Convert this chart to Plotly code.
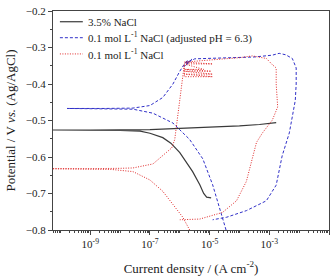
import numpy as np
import plotly.graph_objects as go

# log10 of current density (A cm^-2) and potential (V vs Ag/AgCl)
black_logi = [-4.95, -5.1, -5.2, -5.33, -5.57, -6.0, -6.3, -6.57, -7.0, -7.33, -8.0, -9.0, -10.4,
              -9.0, -7.0, -6.0, -5.67, -5.0, -4.0, -3.33, -2.77]
black_e = [-0.712, -0.71, -0.70, -0.676, -0.64, -0.588, -0.562, -0.547, -0.535, -0.529, -0.527, -0.526, -0.526,
           -0.526, -0.525, -0.522, -0.520, -0.518, -0.515, -0.511, -0.506]

blue_logi = [-4.45, -4.6, -4.9, -5.23, -5.67, -6.23, -6.9, -7.57, -8.5, -9.78,
             -8.5, -7.57, -7.0, -6.57, -6.23, -6.0, -5.83, -5.73, -5.85, -5.7, -5.8, -5.6, -5.75,
             -5.5, -5.0, -4.5, -4.0, -3.5, -2.9, -2.67, -2.45, -2.23, -2.1, -2.1, -2.13, -2.33, -2.57,
             -2.77, -3.1, -3.77, -4.43, -4.9]
blue_e = [-0.80, -0.757, -0.676, -0.605, -0.552, -0.507, -0.48, -0.469, -0.4675, -0.467,
          -0.467, -0.466, -0.459, -0.437, -0.40, -0.365, -0.343, -0.334, -0.352, -0.338, -0.35, -0.332, -0.342,
          -0.331, -0.330, -0.329, -0.328, -0.326, -0.321, -0.316, -0.32, -0.33, -0.356, -0.40, -0.445, -0.534, -0.597,
          -0.677, -0.72, -0.747, -0.765, -0.772]

red_logi = [-5.67, -5.9, -6.23, -6.57, -7.0, -7.57, -8.3, -9.0, -10.4,
            -9.0, -8.0, -7.57, -6.9, -6.57, -6.27, -6.17, -6.05, -5.95, -5.85,
            -5.85, -4.9, -5.85, -4.9, -5.85, -4.95, -5.85, -5.2, -5.85, -4.9, -5.85,
            -5.5, -5.1, -4.5, -4.0, -3.57, -3.1, -2.9, -2.77, -2.77, -2.72, -2.9, -3.23, -3.43,
            -3.57, -3.77, -4.1, -4.57, -5.33, -6.0]
red_e = [-0.80, -0.765, -0.73, -0.694, -0.663, -0.64, -0.634, -0.633, -0.632,
         -0.632, -0.631, -0.63, -0.619, -0.597, -0.575, -0.552, -0.48, -0.41, -0.347,
         -0.38, -0.38, -0.373, -0.373, -0.365, -0.365, -0.36, -0.36, -0.345, -0.345, -0.34,
         -0.337, -0.335, -0.331, -0.328, -0.323, -0.330, -0.347, -0.356, -0.40, -0.463, -0.499, -0.534, -0.56,
         -0.605, -0.667, -0.72, -0.752, -0.770, -0.772]

series_names = ["3.5% NaCl",
                "0.1 mol L<sup>-1</sup> NaCl (adjusted pH = 6.3)",
                "0.1 mol L<sup>-1</sup> NaCl"]

tick_exps = [-9, -7, -5, -3, -1]
tick_text = ["10<sup>%d</sup>" % e for e in tick_exps]

serif = "Liberation Serif, Times New Roman, serif"
styles = [dict(color="#3a3a3a", width=1.2),
          dict(color="#3030c8", width=1.0, dash="3px,2px"),
          dict(color="#e02828", width=1.0, dash="1px,1.5px")]

fig = go.Figure()
for xs, ys, nm, st in [(black_logi, black_e, series_names[0], styles[0]),
                       (blue_logi, blue_e, series_names[1], styles[1]),
                       (red_logi, red_e, series_names[2], styles[2])]:
    fig.add_trace(go.Scatter(x=np.power(10.0, xs), y=ys, mode="lines", line=st, name=nm,
                             showlegend=False))

# manual legend (inside top-left, tight rows)
leg_rows = [0.951, 0.878, 0.804]
for row, nm, st in zip(leg_rows, series_names, styles):
    fig.add_shape(type="line", xref="paper", yref="paper", x0=0.025, x1=0.108, y0=row, y1=row,
                  line=st)
    fig.add_annotation(xref="paper", yref="paper", x=0.118, y=row, text=nm, showarrow=False,
                       xanchor="left", yanchor="middle", font=dict(family=serif, size=11, color="#222"))

fig.update_layout(
    width=335, height=278,
    margin=dict(l=53, r=5, t=8, b=45),
    paper_bgcolor="white", plot_bgcolor="white",
    font=dict(family=serif, size=11, color="#222"),
    showlegend=False,
    xaxis=dict(type="log", range=[-10.25, -1.0], tickvals=[10.0 ** e for e in tick_exps],
               ticktext=tick_text, ticks="outside", ticklen=4, tickcolor="#444",
               showline=True, linecolor="#444", linewidth=1, mirror=True, showgrid=False,
               zeroline=False, tickfont=dict(family=serif, size=11),
               minor=dict(dtick="D1", ticks="outside", ticklen=2, tickcolor="#444", showgrid=False),
               title=dict(text="Current density / (A cm<sup>-2</sup>)", font=dict(family=serif, size=13),
                          standoff=14)),
    yaxis=dict(range=[-0.8, -0.2], dtick=0.1, tickformat=".1f", ticks="outside", ticklen=4,
               tickcolor="#444", showline=True, linecolor="#444", linewidth=1, mirror=True,
               showgrid=False, zeroline=False, tickfont=dict(family=serif, size=11),
               minor=dict(dtick=0.05, ticks="outside", ticklen=2, tickcolor="#444", showgrid=False),
               title=dict(text="Potential / V <i>vs.</i> (Ag/AgCl)", font=dict(family=serif, size=13),
                          standoff=7)),
)

fig.write_html("out.html")
